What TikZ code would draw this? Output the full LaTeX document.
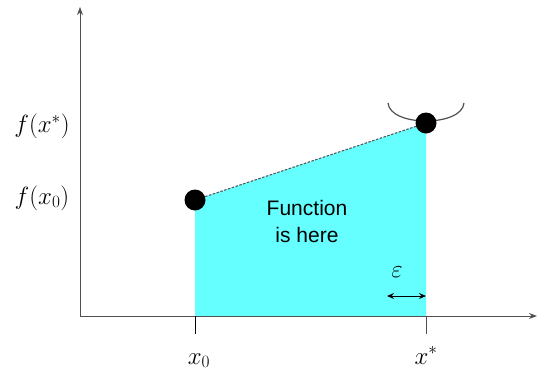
\documentclass[tikz,border=0pt]{standalone}
\usepackage{fontspec}
\newfontfamily\arialfont{Liberation Sans}
\usetikzlibrary{arrows.meta}
\definecolor{fillcyan}{HTML}{66FFFF}
\definecolor{axisgray}{HTML}{505050}
\begin{document}
\begin{tikzpicture}[x=1pt,y=-1pt,
  axis/.style={draw=axisgray,line width=1pt,-{Stealth[length=8pt,width=6pt]}},
  tickline/.style={draw=axisgray,line width=1pt},
  dotnode/.style={circle,fill=black,inner sep=0pt,minimum size=21pt},
  mathlabel/.style={font=\fontsize{24}{28}\selectfont},
  bodytext/.style={font=\arialfont\fontsize{21}{27}\selectfont,align=center,text=black}]
\useasboundingbox (0,0) rectangle (538,370);
\coordinate (o) at (80,316);
\coordinate (ytop) at (80,7);
\coordinate (xend) at (537,316);
\coordinate (b0) at (195,316);
\coordinate (bs) at (426,316);
\coordinate (t0) at (195,334);
\coordinate (ts) at (426,334);
\fill[fillcyan] (195,316) -- (195,200) -- (426,123) -- (426,316) -- cycle;
\draw[axis] (o) -- (ytop);
\draw[axis] (o) -- (xend);
\draw[tickline,draw=black] (b0) -- (t0);
\draw[tickline] (bs) -- (ts);
\draw[draw=axisgray,line width=1.2pt] (388,103) .. controls (390,127) and (462,127) .. (464,103);
\node[dotnode] (p0) at (195,200) {};
\node[dotnode] (ps) at (426,123) {};
\draw[draw=axisgray,line width=1pt,dash pattern=on 2.5pt off 1.5pt] (p0) -- (ps);
\node[mathlabel] (fs) at (42,126) {$f(x^*)$};
\node[mathlabel] (f0) at (42,198) {$f(x_0)$};
\node[mathlabel,anchor=base] (lx0) at (199,364) {$x_0$};
\node[mathlabel,anchor=base] (lxs) at (426,364) {$x^*$};
\node[bodytext] (txt) at (307,221) {Function\\ is here};
\node[font=\fontsize{25}{28}\selectfont] (eps) at (397,272) {$\varepsilon$};
\coordinate (ea) at (387,296);
\coordinate (eb) at (426,296);
\draw[line width=1pt,{Stealth[length=7pt,width=6pt]}-{Stealth[length=7pt,width=6pt]}] (ea) -- (eb);
\end{tikzpicture}
\end{document}
